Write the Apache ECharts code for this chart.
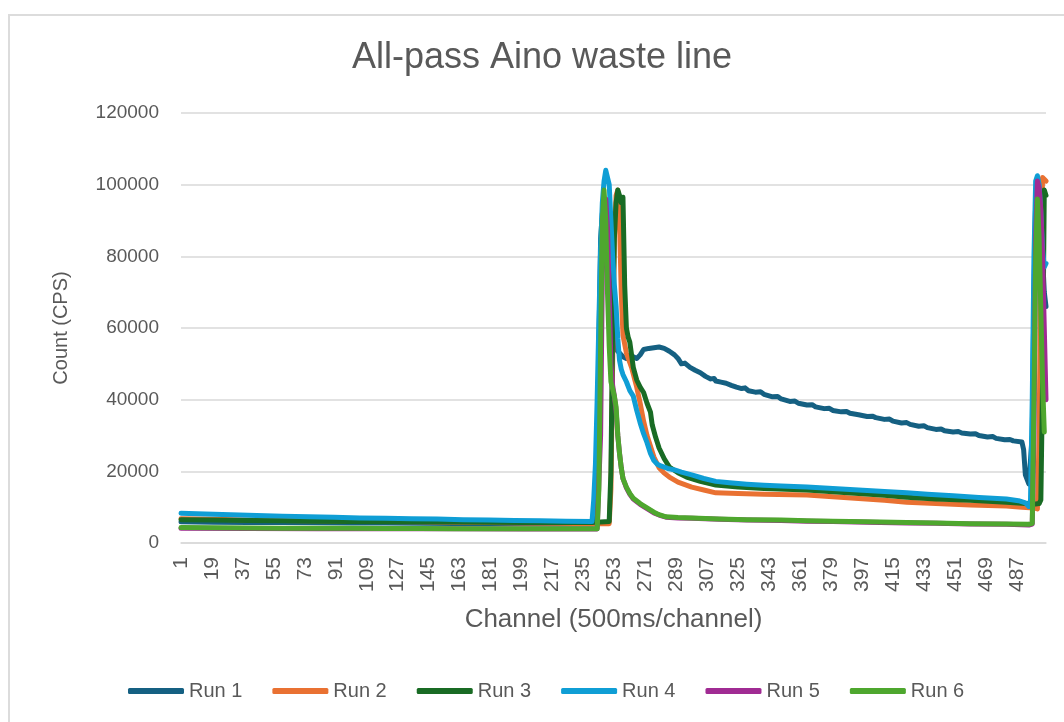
<!DOCTYPE html>
<html>
<head>
<meta charset="utf-8">
<script src="https://cdn.jsdelivr.net/npm/echarts@6/dist/echarts.min.js"></script>
<style>
    html, body { margin: 0; padding: 0; background: #fff; overflow: hidden; width: 1064px; height: 722px; }
    #chart { position: absolute; left: 8px; top: 14px; width: 1064px; height: 710px;
             border-left: 2px solid #dcdcdc; border-top: 2px solid #dcdcdc; }
</style>
</head>
<body>
<div id="chart"></div>
<script>
// channels 1..504 on the category axis
var channelCount = 504;
var channels = [];
for (var c = 1; c <= channelCount; c++) channels.push(String(c));

var seriesNames = ['Run 1', 'Run 2', 'Run 3', 'Run 4', 'Run 5', 'Run 6'];
var colors = ['#156082', '#E97132', '#196B24', '#0F9ED5', '#A02B93', '#4EA72E'];
var yTicks = [0, 20000, 40000, 60000, 80000, 100000, 120000];

// [channel, count]
var run1 = [[1,5900],[20,5800],[40,5750],[60,5700],[80,5650],[100,5600],[120,5550],[140,5500],[160,5450],[180,5400],[200,5350],[220,5300],[240,5300],
    [242,5500],[243,20000],[244,55000],[245,85000],[246,92000],[247,93000],[248,90000],[249,80000],[250,72000],[251,65000],[252,60000],[253,56000],[254,54000],
    [256,53000],[258,52000],[260,51500],[262,52000],[264,52000],[266,51500],[268,52500],[270,54000],[273,54300],[276,54500],[279,54700],[282,54300],[285,53500],
    [288,52500],[290,51500],[292,50000],[294,50200],[297,49000],[300,48200],[303,47500],[306,46500],[309,45800],[311,45900],[312,45200],[315,44900],[318,44600],
    [321,44000],[324,43500],[327,43100],[329,43300],[331,42500],[335,42100],[338,42200],[340,41500],[345,40800],[348,40900],[350,40200],[355,39500],[358,39600],
    [360,39000],[365,38500],[368,38600],[370,38000],[375,37500],[378,37600],[380,37000],[385,36600],[388,36700],[390,36200],[395,35800],[400,35300],[403,35400],
    [405,35000],[410,34500],[413,34600],[415,34000],[420,33500],[423,33600],[425,33100],[430,32600],[433,32700],[435,32200],[440,31700],[443,31800],[445,31300],
    [450,31000],[453,31100],[455,30700],[460,30400],[463,30500],[465,30000],[470,29600],[473,29700],[475,29200],[480,28800],[483,28900],[485,28500],[490,28200],
    [491,26000],[492,19000],[494,16500],[495,16000],[496,30000],[497,70000],[498,96000],[499,98000],[500,97000],[501,90000],[502,80000],[503,70000],[504,66000]];
var run2 = [[1,6800],[20,6600],[40,6400],[60,6300],[80,6200],[100,6100],[120,6000],[140,5900],[160,5800],[180,5700],[200,5600],[220,5500],[240,5400],[250,5400],
    [251,15000],[252,50000],[253,85000],[254,97000],[255,98500],[256,90000],[257,70000],[258,58000],[260,53000],[263,49000],[266,43500],[268,39000],[270,34000],
    [272,30000],[274,27000],[276,24000],[279,21000],[282,19500],[285,18400],[290,17000],[298,15600],[305,14800],[312,14000],[325,13800],[340,13600],[365,13400],
    [380,12900],[395,12400],[410,11900],[423,11400],[440,11000],[460,10600],[481,10300],[490,10000],[497,9800],[499,9500],[500,30000],[501,80000],[502,102000],
    [503,101500],[504,101000]];
var run3 = [[1,6500],[20,6400],[40,6300],[60,6200],[80,6100],[100,6000],[120,5950],[140,5900],[160,5850],[180,5800],[200,5750],[220,5700],[240,5700],[250,6000],
    [251,20000],[252,60000],[253,85000],[254,95000],[255,98500],[256,97000],[257,95000],[258,96500],[259,72000],[260,60000],[261,57500],[262,56000],[264,49000],
    [266,45500],[268,43500],[270,42000],[272,39000],[274,36500],[275,33000],[277,29500],[279,26500],[282,23500],[285,21200],[290,19600],[295,18400],[303,17200],
    [312,16200],[325,15600],[340,15200],[365,14800],[380,14300],[395,13800],[410,13300],[423,12800],[440,12300],[460,11900],[481,11400],[490,11100],[498,10900],
    [500,11000],[501,12000],[502,45000],[503,98500],[504,97000]];
var run4 = [[1,8300],[15,8100],[30,7900],[45,7700],[60,7500],[75,7300],[90,7200],[105,7000],[120,6900],[135,6800],[150,6700],[165,6500],[180,6400],[195,6300],
    [210,6200],[225,6100],[240,6000],[241,12000],[242,22000],[243,40000],[244,62000],[245,82000],[246,95000],[247,101000],[248,104000],[249,104000],[250,100000],
    [251,90000],[252,80000],[253,72000],[254,66000],[255,57000],[256,51000],[257,48500],[258,47000],[260,45000],[262,42500],[264,41000],[266,37000],[268,33500],
    [270,30500],[272,28000],[274,25000],[276,23000],[278,22000],[280,21500],[284,20800],[288,20400],[292,19800],[298,19000],[305,18000],[312,17200],[320,16800],
    [330,16400],[340,16100],[350,15900],[365,15600],[380,15200],[395,14800],[410,14400],[423,14000],[435,13600],[450,13200],[465,12700],[481,12300],[488,11800],
    [492,11200],[494,10200],[495,12000],[496,40000],[497,80000],[498,101000],[499,102500],[500,100000],[501,92000],[502,82000],[503,77000],[504,78000]];
var run5 = [[1,4100],[40,4050],[80,4000],[120,4000],[160,3950],[200,3900],[243,3900],[244,4000],[245,30000],[246,75000],[247,95000],[248,96000],[249,88000],
    [250,70000],[251,50000],[252,44000],[253,41000],[254,37000],[255,30000],[256,25000],[257,21000],[258,18000],[260,15400],[262,13600],[264,12300],[268,10800],
    [272,9600],[276,8400],[279,7800],[283,7200],[290,7000],[298,6900],[314,6600],[330,6400],[350,6300],[365,6100],[380,6000],[400,5800],[423,5600],[440,5500],
    [460,5300],[481,5200],[494,5000],[496,5300],[497,30000],[498,85000],[499,101000],[500,99000],[501,93000],[502,80000],[503,60000],[504,40000]];
var run6 = [[1,4300],[20,4250],[40,4200],[60,4150],[80,4100],[100,4100],[120,4050],[140,4050],[160,4000],[180,4000],[200,4000],[220,3950],[243,3950],
    [244,15000],[245,55000],[246,90000],[247,98500],[248,90000],[249,70000],[250,55000],[251,45000],[252,43000],[253,41000],[254,38000],[255,30000],[256,25000],
    [257,21000],[258,18000],[260,15600],[262,13800],[264,12500],[268,11000],[272,9800],[276,8600],[279,7900],[283,7300],[290,7100],[298,7000],[314,6700],
    [330,6500],[350,6400],[365,6200],[380,6100],[400,5900],[423,5700],[440,5600],[460,5400],[481,5300],[494,5200],[496,5500],[497,40000],[498,80000],
    [499,96000],[500,85000],[501,65000],[502,45000],[503,31000]];

var runs = [run1, run2, run3, run4, run5, run6];
var font = '"Liberation Sans", Arial, sans-serif';

var myChart = echarts.init(document.getElementById('chart'));
var series = [];
for (var i = 0; i < runs.length; i++) {
    series.push({
        name: seriesNames[i],
        type: 'line',
        showSymbol: false,
        symbol: 'none',
        data: runs[i].map(function (p) { return [p[0] - 1, p[1]]; }),
        lineStyle: { width: 5, color: colors[i], cap: 'round', join: 'round' },
        itemStyle: { color: colors[i] }
    });
}

var option = {
    animation: false,
    color: colors,
    title: {
        text: 'All-pass Aino waste line',
        left: 'center',
        top: 24,
        padding: 0,
        textStyle: { fontFamily: font, fontSize: 36, fontWeight: 'normal', color: '#595959' }
    },
    legend: {
        data: seriesNames,
        left: 118,
        top: 665,
        padding: 0,
        icon: 'roundRect',
        itemWidth: 56,
        itemHeight: 6,
        itemGap: 30,
        textStyle: { fontFamily: font, fontSize: 20, color: '#595959' }
    },
    grid: { left: 171, right: 28, top: 97, bottom: 183 },
    xAxis: {
        type: 'category',
        data: channels,
        boundaryGap: false,
        name: 'Channel (500ms/channel)',
        nameLocation: 'middle',
        nameGap: 64,
        nameTextStyle: { fontFamily: font, fontSize: 26, color: '#595959' },
        axisLine: { lineStyle: { color: '#d9d9d9', width: 1.5 } },
        axisTick: { show: false },
        axisLabel: { interval: 17, rotate: 90, margin: 14, fontFamily: font, fontSize: 21, color: '#595959' },
        splitLine: { show: false }
    },
    yAxis: {
        type: 'value',
        min: yTicks[0],
        max: yTicks[yTicks.length - 1],
        interval: 20000,
        name: 'Count (CPS)',
        nameLocation: 'middle',
        nameGap: 110,
        nameTextStyle: { fontFamily: font, fontSize: 20, color: '#595959' },
        axisLine: { show: false },
        axisTick: { show: false },
        axisLabel: {
            margin: 22, fontFamily: font, fontSize: 19, color: '#595959',
            formatter: function (v) { return String(v); }
        },
        splitLine: { lineStyle: { color: '#d9d9d9', width: 1.5 } }
    },
    series: series
};
myChart.setOption(option);
</script>
</body>
</html>
